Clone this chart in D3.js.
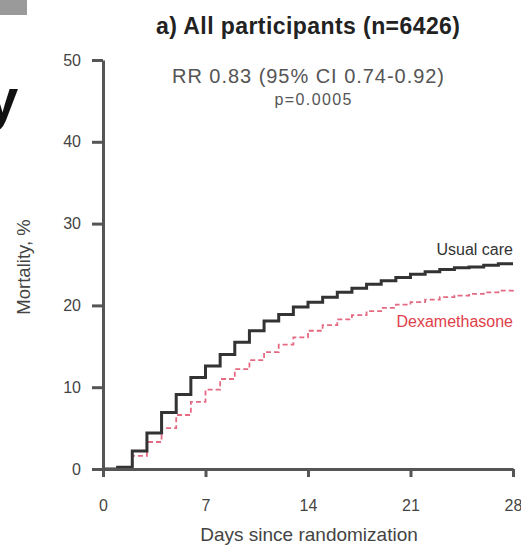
<!DOCTYPE html>
<html>
<head>
<meta charset="utf-8">
<script src="https://cdn.jsdelivr.net/npm/d3@7/dist/d3.min.js"></script>
<style>
  body { margin: 0; background: #fff; }
  svg { display: block; font-family: "Liberation Sans", Arial, sans-serif; }
</style>
</head>
<body>
<div id="chart"></div>
<script>
// values (cumulative mortality, %)
var days = [0, 1, 2, 3, 4, 5, 6, 7, 8, 9, 10, 11, 12, 13, 14, 15, 16, 17, 18, 19, 20, 21, 22, 23, 24, 25, 26, 27, 28];
var usualCare = [0, 0.2, 2.2, 4.4, 6.9, 9.1, 11.2, 12.6, 14.0, 15.5, 16.9, 18.1, 18.9, 19.8, 20.4, 21.0, 21.6, 22.1, 22.6, 23.0, 23.4, 23.8, 24.1, 24.4, 24.6, 24.7, 24.9, 25.1, 25.1];
var dexamethasone = [0, 0.2, 1.6, 3.3, 5.0, 6.6, 8.2, 9.7, 11.0, 12.2, 13.3, 14.3, 15.2, 16.1, 16.9, 17.6, 18.3, 18.8, 19.3, 19.7, 20.1, 20.4, 20.7, 21.0, 21.2, 21.4, 21.6, 21.8, 21.9];
var xTicks = [0, 7, 14, 21, 28];
var yTicks = [0, 10, 20, 30, 40, 50];
var seriesNames = ["Usual care", "Dexamethasone"];

var width = 521, height = 547;
var x = d3.scaleLinear().domain([0, 28]).range([103, 513]);
var y = d3.scaleLinear().domain([0, 50]).range([469, 60]);

var svg = d3.select("#chart")
  .append("svg")
  .attr("width", width)
  .attr("height", height);

// leftovers of the neighbouring panel
svg.append("rect")
  .attr("x", 0).attr("y", 0)
  .attr("width", 27).attr("height", 15)
  .attr("fill", "#9a9a9a");
svg.append("text")
  .attr("x", -14).attr("y", 119)
  .attr("font-size", 58)
  .attr("font-weight", "bold")
  .attr("fill", "#111")
  .text("y");

// titles
svg.append("text")
  .attr("x", 308).attr("y", 34)
  .attr("text-anchor", "middle")
  .attr("font-size", 23)
  .attr("font-weight", "bold")
  .attr("fill", "#222")
  .attr("textLength", 304)
  .text("a) All participants (n=6426)");
svg.append("text")
  .attr("x", 308).attr("y", 83)
  .attr("text-anchor", "middle")
  .attr("font-size", 20)
  .attr("fill", "#555")
  .attr("textLength", 272)
  .text("RR 0.83 (95% CI 0.74-0.92)");
svg.append("text")
  .attr("x", 313).attr("y", 105)
  .attr("text-anchor", "middle")
  .attr("font-size", 16)
  .attr("fill", "#555")
  .attr("textLength", 77)
  .text("p=0.0005");

var lineFunction = d3.line()
  .x(function(d){ return x(d[0]); })
  .y(function(d){ return y(d[1]); })
  .curve(d3.curveStepAfter);

svg.append("path")
  .attr("class", "dexa")
  .attr("fill", "none")
  .attr("stroke", "#e46a82")
  .attr("stroke-width", 1.8)
  .attr("stroke-dasharray", "5,3")
  .attr("d", lineFunction(days.map(function(d, i){ return [d, dexamethasone[i]]; })));

svg.append("path")
  .attr("class", "usual")
  .attr("fill", "none")
  .attr("stroke", "#333")
  .attr("stroke-width", 3)
  .attr("d", lineFunction(days.map(function(d, i){ return [d, usualCare[i]]; })));

// axes
var gx = svg.append("g")
  .attr("transform", "translate(0," + y(0) + ")")
  .call(d3.axisBottom(x).tickValues(xTicks).tickSize(8).tickSizeOuter(0).tickPadding(23));
var gy = svg.append("g")
  .attr("transform", "translate(" + x(0) + ",0)")
  .call(d3.axisLeft(y).tickValues(yTicks).tickSize(11).tickSizeOuter(0).tickPadding(11));

[gx, gy].forEach(function(g){
  g.select(".domain").attr("stroke", "#555").attr("stroke-width", 3);
  g.selectAll(".tick line").attr("stroke", "#555").attr("stroke-width", 3);
  g.selectAll(".tick text")
    .attr("font-family", "Liberation Sans, Arial, sans-serif")
    .attr("font-size", 16)
    .attr("fill", "#444");
});

svg.append("text")
  .attr("x", 309).attr("y", 541)
  .attr("text-anchor", "middle")
  .attr("font-size", 19)
  .attr("fill", "#444")
  .text("Days since randomization");
svg.append("text")
  .attr("transform", "translate(30,267) rotate(-90)")
  .attr("text-anchor", "middle")
  .attr("font-size", 18.5)
  .attr("fill", "#444")
  .text("Mortality, %");

// line labels
svg.append("text")
  .attr("x", 513).attr("y", 255)
  .attr("text-anchor", "end")
  .attr("font-size", 16)
  .attr("fill", "#333")
  .text(seriesNames[0]);
svg.append("text")
  .attr("x", 513).attr("y", 327)
  .attr("text-anchor", "end")
  .attr("font-size", 16)
  .attr("fill", "#e0404a")
  .text(seriesNames[1]);
</script>
</body>
</html>
